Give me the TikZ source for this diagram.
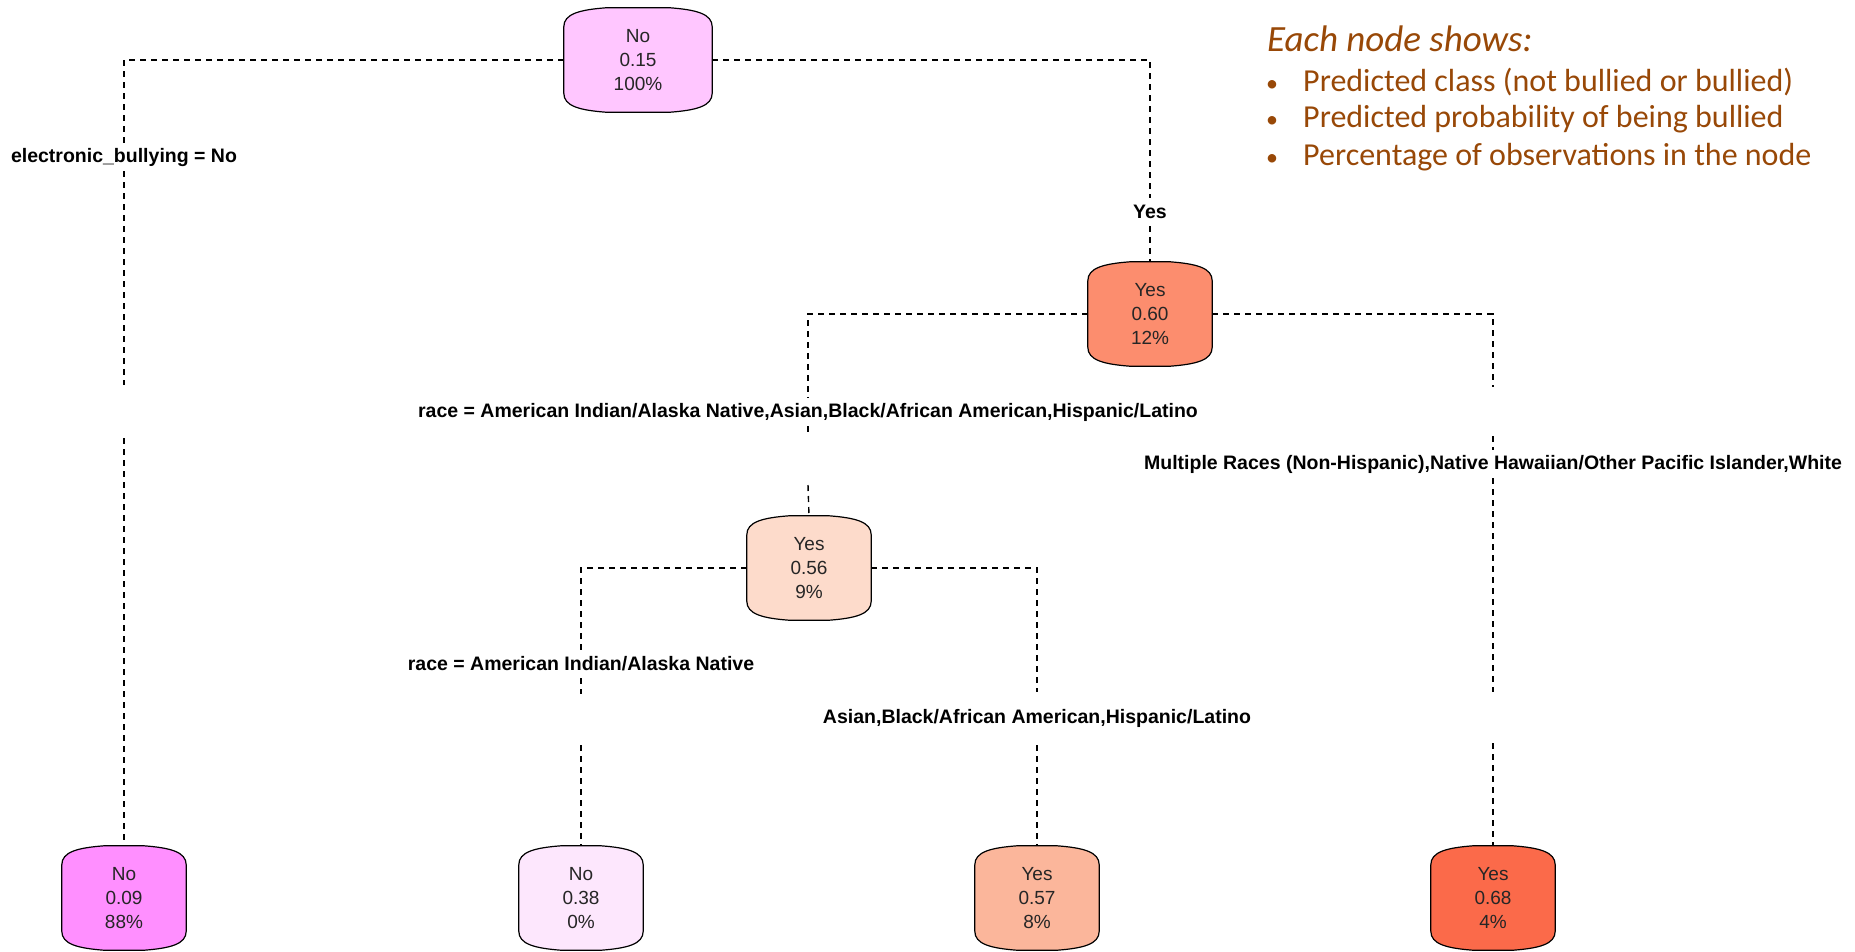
\documentclass[tikz,border=0pt]{standalone}
\usepackage{fontspec}
\setmainfont{Liberation Sans}
\newfontfamily\legendfont{Carlito}
\usetikzlibrary{positioning,calc,backgrounds}
\definecolor{rootfill}{RGB}{255,198,255}
\definecolor{nofill}{RGB}{255,143,255}
\definecolor{nolight}{RGB}{253,231,253}
\definecolor{yesmid}{RGB}{252,141,110}
\definecolor{yespale}{RGB}{253,219,203}
\definecolor{yeslight}{RGB}{251,182,155}
\definecolor{yesdark}{RGB}{251,106,74}
\definecolor{legendbrown}{RGB}{152,72,7}
% outline of a tree box, drawn behind the node #1 in colour #2
\newcommand{\boxoutline}[2]{%
  \filldraw[fill=#2, line width=1.2pt]
    ($(#1.north west)+(0,19)$) .. controls ($(#1.north west)+(0,6)$) and ($(#1.north west)+(16,2)$) .. ($(#1.north west)+(42,0)$)
    -- ($(#1.north east)+(-42,0)$) .. controls ($(#1.north east)+(-16,2)$) and ($(#1.north east)+(0,6)$) .. ($(#1.north east)+(0,19)$)
    -- ($(#1.south east)+(0,-19)$) .. controls ($(#1.south east)+(0,-6)$) and ($(#1.south east)+(-16,-2)$) .. ($(#1.south east)+(-42,0)$)
    -- ($(#1.south west)+(42,0)$) .. controls ($(#1.south west)+(16,-2)$) and ($(#1.south west)+(0,-6)$) .. ($(#1.south west)+(0,-19)$)
    -- cycle;}

\begin{document}
\begin{tikzpicture}[x=1pt,y=-1pt,
treenode/.style={minimum width=124pt, minimum height=104pt, inner sep=0pt,
  align=center, text=black!85, font=\fontsize{19}{24}\selectfont},
split/.style={inner sep=0pt, minimum height=28pt,
  font=\bfseries\fontsize{19.5}{22}\selectfont},
branch/.style={dash pattern=on 6pt off 5pt, line width=1.4pt},
legend/.style={anchor=west, inner sep=0pt, text=legendbrown,
  font=\legendfont\fontsize{32}{38}\selectfont}]
\useasboundingbox (0,0) rectangle (1855,951);

% tree nodes
\node[treenode, minimum width=148pt] (root) at (638,60) {No\\0.15\\100\%};
\node[treenode] (n2) at (1150,314) {Yes\\0.60\\12\%};
\node[treenode] (n3) at (809,568) {Yes\\0.56\\9\%};
\node[treenode] (leaf1) at (124,898) {No\\0.09\\88\%};
\node[treenode] (leaf2) at (581,898) {No\\0.38\\0\%};
\node[treenode] (leaf3) at (1037,898) {Yes\\0.57\\8\%};
\node[treenode] (leaf4) at (1493,898) {Yes\\0.68\\4\%};

\begin{scope}[on background layer]
\boxoutline{root}{rootfill}
\boxoutline{n2}{yesmid}
\boxoutline{n3}{yespale}
\boxoutline{leaf1}{nofill}
\boxoutline{leaf2}{nolight}
\boxoutline{leaf3}{yeslight}
\boxoutline{leaf4}{yesdark}
\end{scope}

% split labels
\node[split] (splitA) at (124,157) {electronic\_bullying = No};
\node[split] (splitB) at (1150,212) {Yes};
\node[split] (splitC) at (808,412) {race = American Indian/Alaska Native,Asian,Black/African American,Hispanic/Latino};
\node[split] (splitD) at (1493,464) {Multiple Races (Non-Hispanic),Native Hawaiian/Other Pacific Islander,White};
\node[split] (splitE) at (581,664) {race = American Indian/Alaska Native};
\node[split] (splitF) at (1037,718) {Asian,Black/African American,Hispanic/Latino};

% gaps in the branches
\coordinate (gapA1) at (124,385);
\coordinate (gapA2) at (124,438);
\coordinate (gapC1) at (808,436);
\coordinate (gapC2) at (808,485);
\coordinate (gapD1) at (1493,387);
\coordinate (gapD2) at (1493,436);
\coordinate (gapD3) at (1493,692);
\coordinate (gapD4) at (1493,743);
\coordinate (gapE1) at (581,694);
\coordinate (gapE2) at (581,745);
\coordinate (gapF1) at (1037,692);
\coordinate (gapF2) at (1037,745);

% branches
\draw[branch] (root.west) -| (splitA.north);
\draw[branch] (splitA.south) -- (gapA1);
\draw[branch] (gapA2) -- (leaf1.north);
\draw[branch] (root.east) -| (splitB.north);
\draw[branch] (splitB.south) -- (n2.north);
\draw[branch] (n2.west) -| (splitC.north);
\draw[branch] (splitC.south) -- (gapC1);
\draw[branch] (gapC2) -- (n3.north);
\draw[branch] (n2.east) -| (gapD1);
\draw[branch] (gapD2) -- (splitD.north);
\draw[branch] (splitD.south) -- (gapD3);
\draw[branch] (gapD4) -- (leaf4.north);
\draw[branch] (n3.west) -| (splitE.north);
\draw[branch] (splitE.south) -- (gapE1);
\draw[branch] (gapE2) -- (leaf2.north);
\draw[branch] (n3.east) -| (gapF1);
\draw[branch] (gapF2) -- (leaf3.north);

% legend
\node[legend, font=\legendfont\itshape\fontsize{37}{40}\selectfont] (legtitle) at (1267,39) {Each node shows:};
\node[legend] (leg1) at (1266,82) {\makebox[37pt][l]{\fontsize{24}{24}\selectfont•}Predicted class (not bullied or bullied)};
\node[legend] (leg2) at (1266,119) {\makebox[37pt][l]{\fontsize{24}{24}\selectfont•}Predicted probability of being bullied};
\node[legend] (leg3) at (1266,157) {\makebox[37pt][l]{\fontsize{24}{24}\selectfont•}Percentage of observations in the node};
\end{tikzpicture}
\end{document}
